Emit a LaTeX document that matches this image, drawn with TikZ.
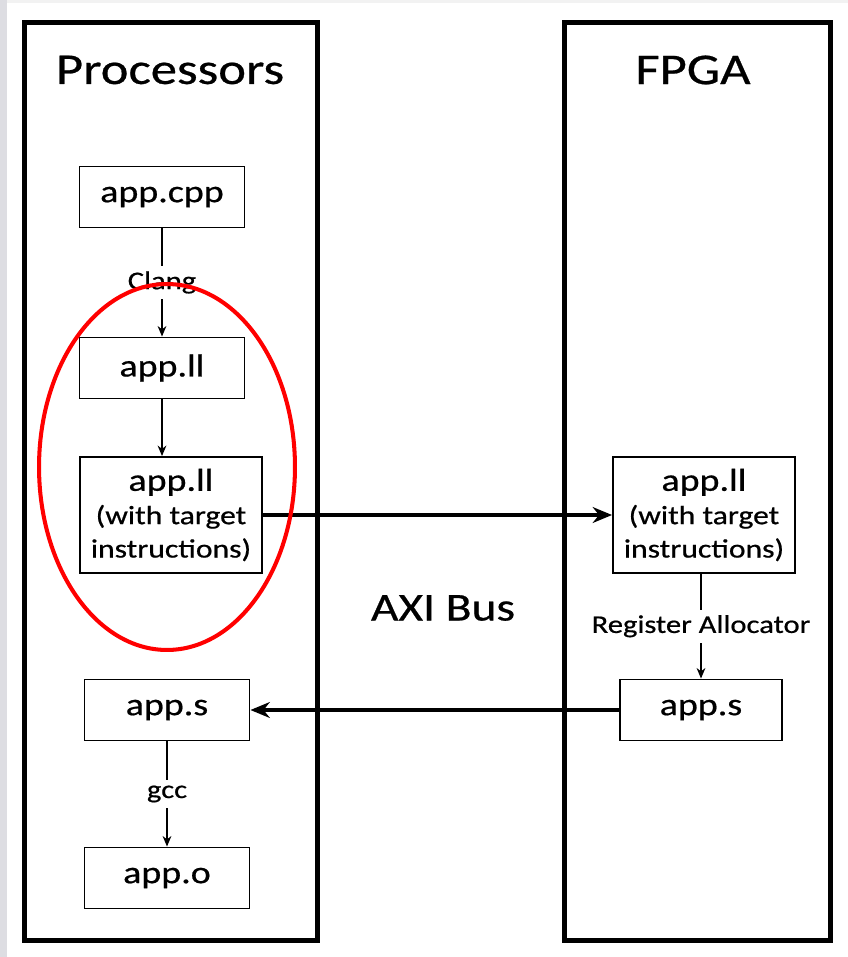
\documentclass[tikz,border=0pt]{standalone}
\usepackage{fontspec}
\setmainfont{Carlito}[FakeStretch=1.2, FakeBold=0.6]
\usetikzlibrary{arrows.meta,positioning}

\tikzset{
  panel/.style={draw, line width=2.8pt, inner sep=0pt, minimum height=18.38cm},
  paneltitle/.style={font=\fontsize{25}{30}\selectfont},
  filebox/.style={draw, line width=1.1pt, minimum height=1.22cm, inner sep=2pt,
    align=center, font=\fontsize{18}{19}\selectfont},
  steplabel/.style={fill=white, inner sep=3pt, font=\fontsize{14.5}{16}\selectfont},
  steparrow/.style={-{Stealth[length=6pt,width=5pt]}, line width=0.8pt},
  busarrow/.style={-{Stealth[length=11pt,width=9pt]}, line width=2.2pt},
}
\newcommand{\paren}[1]{{\fontsize{15}{18}\selectfont #1}}

\begin{document}
\begin{tikzpicture}[x=0.02cm, y=-0.02cm]
  \useasboundingbox (0,0) rectangle (848,957);
  \fill[white] (0,0) rectangle (848,957);
  \fill[blue!8!gray!25] (0,0) rectangle (7,957);
  \fill[gray!10] (7,0) rectangle (848,3);

  % the two sides
  \node[panel, minimum width=5.86cm] (proc) at (171,481.5) {};
  \node[panel, minimum width=5.32cm] (fpga) at (697.5,481.5) {};
  \node[paneltitle] (proctitle) at (170,70) {Processors};
  \node[paneltitle] (fpgatitle) at (693,70) {FPGA};

  % processor side
  \node[filebox, minimum width=3.3cm] (cpp) at (162,197) {app.cpp};
  \node[filebox, minimum width=3.3cm] (ll) at (162,368) {app.ll};
  \node[filebox, minimum width=3.64cm, minimum height=2.32cm] (lltgt) at (171,515)
    {app.ll\\\paren{(with target}\\\paren{instructions)}};
  \node[filebox, minimum width=3.3cm] (asm) at (167,710) {app.s};
  \node[filebox, minimum width=3.3cm] (obj) at (167,878) {app.o};

  % fpga side
  \node[filebox, minimum width=3.64cm, minimum height=2.32cm] (fpgall) at (704,515)
    {app.ll\\\paren{(with target}\\\paren{instructions)}};
  \node[filebox, minimum width=3.24cm] (fpgaasm) at (701,710) {app.s};

  \node[font=\fontsize{22.5}{25}\selectfont] (bus) at (443,608) {AXI Bus};

  % flow
  \draw[steparrow] (cpp) -- node[steplabel] {Clang} (ll);
  \draw[steparrow] (ll) -- (ll |- lltgt.north);
  \draw[busarrow] (lltgt) -- (fpgall);
  \draw[steparrow] (fpgaasm.north |- fpgall.south) -- node[steplabel] {Register Allocator} (fpgaasm);
  \draw[busarrow] (fpgaasm) -- (asm);
  \draw[steparrow] (asm) -- node[steplabel] {gcc} (obj);

  % highlight
  \draw[red, line width=2.3pt] (167,467) ellipse [x radius=2.56cm, y radius=3.66cm];
\end{tikzpicture}
\end{document}
